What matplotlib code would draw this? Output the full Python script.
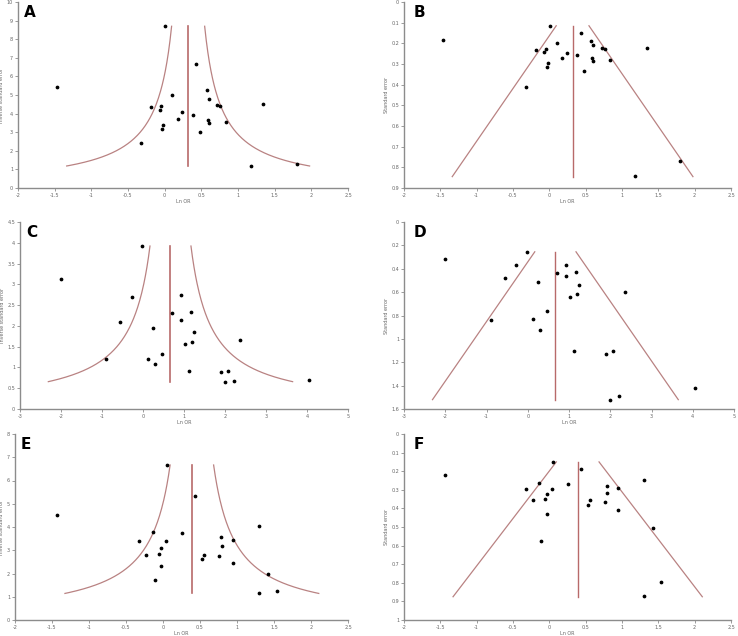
import numpy as np
from matplotlib import pyplot as plt

# ln OR and standard error for each study, per pair of panels
ab_lnor = [-1.47, 0.01, -0.18, -0.07, -0.05, 0.10, -0.02, -0.03, -0.32, 0.24, 0.18, 0.38,
           0.43, 0.48, 0.58, 0.60, 0.59, 0.60, 0.72, 0.76, 0.83, 1.34, 1.80, 1.18]
ab_se = [0.185, 0.115, 0.23, 0.24, 0.228, 0.20, 0.293, 0.313, 0.41, 0.245, 0.27, 0.255,
         0.15, 0.335, 0.19, 0.21, 0.272, 0.287, 0.225, 0.227, 0.283, 0.222, 0.77, 0.84]
ab_pooled = 0.32
ab_se_range = (0.115, 0.845)

cd_lnor = [-2.0, -0.03, -0.28, -0.55, 0.24, -0.9, 0.47, 0.12, 0.30, 0.70, 0.93, 0.93,
           1.17, 1.25, 1.19, 1.03, 2.36, 1.12, 1.90, 2.07, 1.99, 2.22, 4.05]
cd_se = [0.32, 0.255, 0.37, 0.48, 0.51, 0.835, 0.76, 0.83, 0.92, 0.435, 0.365, 0.465,
         0.43, 0.54, 0.62, 0.64, 0.60, 1.10, 1.13, 1.10, 1.52, 1.49, 1.42]
cd_pooled = 0.67
cd_se_range = (0.255, 1.52)

ef_lnor = [-1.43, 0.05, 0.43, -0.14, -0.32, 0.04, 0.26, -0.03, -0.06, -0.23, -0.03, -0.11,
           0.53, 0.56, 0.76, 0.79, 0.80, 0.95, 0.94, 1.30, 1.42, 1.54, 1.30]
ef_se = [0.222, 0.15, 0.187, 0.263, 0.296, 0.296, 0.267, 0.323, 0.35, 0.355, 0.43, 0.575,
         0.383, 0.355, 0.363, 0.28, 0.315, 0.29, 0.408, 0.248, 0.503, 0.795, 0.87]
ef_pooled = 0.39
ef_se_range = (0.15, 0.875)

line_col = '#b98282'
mid_col = '#b86a6a'
axis_col = '#8c8c8c'
text_col = '#666666'

fig = plt.figure(figsize=(7.38, 6.36), dpi=100)
W, H = 738.0, 636.0


def make_ax(l, r, t, b):
    ax = fig.add_axes([l / W, 1 - b / H, (r - l) / W, (b - t) / H])
    for s in ['top', 'right']:
        ax.spines[s].set_visible(False)
    for s in ['left', 'bottom']:
        ax.spines[s].set_color(axis_col)
        ax.spines[s].set_linewidth(1.0)
    ax.tick_params(colors=axis_col, labelcolor=text_col, labelsize=3.5,
                   length=2, width=0.6, pad=1.5)
    return ax


def finish(ax, xlim, xticks, yticks, ylabel, letter, dx):
    ax.set_xlim(xlim)
    ax.set_xticks(xticks)
    ax.set_yticks(yticks)
    ax.set_xticklabels(['%g' % v for v in xticks])
    ax.set_yticklabels(['%g' % v for v in yticks])
    ax.set_xlabel('Ln OR', fontsize=3.5, color=text_col, labelpad=0.5)
    ax.set_ylabel(ylabel, fontsize=3.5, color=text_col, labelpad=2)
    ax.annotate(letter, xy=(0, 1), xycoords='axes fraction', xytext=(dx, -3),
                textcoords='offset pixels', fontsize=11, fontweight='bold',
                va='top', ha='left')


def inverse_panel(ax, lnor, se, pooled, se_range, xlim, xticks, ymax, yticks, letter):
    se_line = np.linspace(se_range[0], se_range[1], 200)
    prec = 1 / se_line
    ax.plot(pooled - 1.96 * se_line, prec, color=line_col, lw=0.9)
    ax.plot(pooled + 1.96 * se_line, prec, color=line_col, lw=0.9)
    ax.plot([pooled, pooled], [prec.min(), prec.max()], color=mid_col, lw=1.2)
    ax.plot(lnor, 1 / np.array(se), 'o', color='black', ms=1.7)
    ax.set_ylim(0, ymax)
    finish(ax, xlim, xticks, yticks, 'Inverse standard error', letter, 6)


def se_panel(ax, lnor, se, pooled, se_range, xlim, xticks, ymax, yticks, letter):
    se_line = np.array(se_range)
    ax.plot(pooled - 1.96 * se_line, se_line, color=line_col, lw=0.9)
    ax.plot(pooled + 1.96 * se_line, se_line, color=line_col, lw=0.9)
    ax.plot([pooled, pooled], se_line, color=mid_col, lw=1.0)
    ax.plot(lnor, se, 'o', color='black', ms=1.7)
    ax.set_ylim(ymax, 0)
    finish(ax, xlim, xticks, yticks, 'Standard error', letter, 10)


x_ab = [-2, -1.5, -1, -0.5, 0, 0.5, 1, 1.5, 2, 2.5]
x_cd = [-3, -2, -1, 0, 1, 2, 3, 4, 5]

axA = make_ax(18, 348, 2, 188)
inverse_panel(axA, ab_lnor, ab_se, ab_pooled, ab_se_range, (-2, 2.5), x_ab, 10, range(0, 11), 'A')
axB = make_ax(404, 731, 2, 188)
se_panel(axB, ab_lnor, ab_se, ab_pooled, ab_se_range, (-2, 2.5), x_ab, 0.9,
         [0, 0.1, 0.2, 0.3, 0.4, 0.5, 0.6, 0.7, 0.8, 0.9], 'B')

axC = make_ax(20, 348, 222, 409)
inverse_panel(axC, cd_lnor, cd_se, cd_pooled, cd_se_range, (-3, 5), x_cd, 4.5,
              [0, 0.5, 1, 1.5, 2, 2.5, 3, 3.5, 4, 4.5], 'C')
axD = make_ax(404, 734, 222, 409)
se_panel(axD, cd_lnor, cd_se, cd_pooled, cd_se_range, (-3, 5), x_cd, 1.6,
         [0, 0.2, 0.4, 0.6, 0.8, 1, 1.2, 1.4, 1.6], 'D')

axE = make_ax(15, 348, 434, 620)
inverse_panel(axE, ef_lnor, ef_se, ef_pooled, ef_se_range, (-2, 2.5), x_ab, 8, range(0, 9), 'E')
axF = make_ax(404, 731, 434, 620)
se_panel(axF, ef_lnor, ef_se, ef_pooled, ef_se_range, (-2, 2.5), x_ab, 1,
         [0, 0.1, 0.2, 0.3, 0.4, 0.5, 0.6, 0.7, 0.8, 0.9, 1], 'F')

fig.savefig('out.png', dpi=100)
